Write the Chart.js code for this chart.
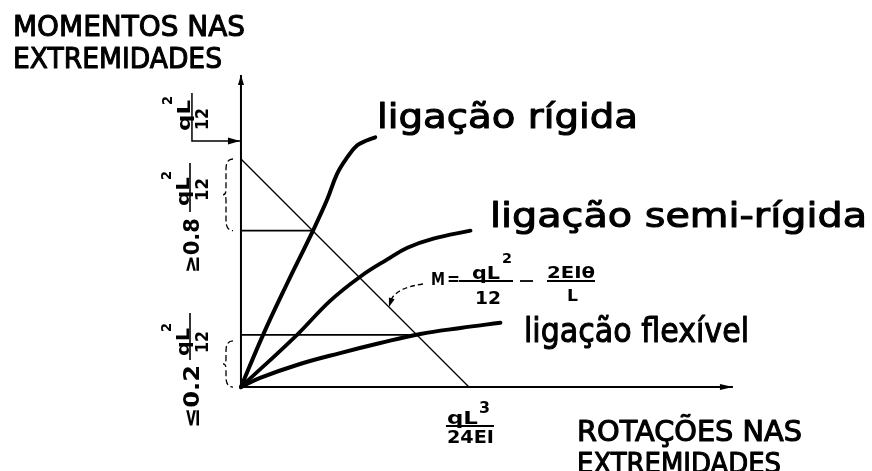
<!DOCTYPE html>
<html>
<head>
<meta charset="utf-8">
<script src="https://cdn.jsdelivr.net/npm/chart.js@4.4.1/dist/chart.umd.min.js"></script>
<style>
  html, body { margin: 0; padding: 0; background: #fff; }
  canvas { display: block; }
</style>
</head>
<body>
<canvas id="chart" width="872" height="471"></canvas>
<script>
// Rotation θ in units of qL³/24EI, end moment M in units of qL²/12
const rigidTheta   = [0, 0.097, 0.202, 0.316, 0.378, 0.422, 0.466, 0.510, 0.554, 0.589];
const rigidMoment  = [0, 0.229, 0.453, 0.686, 0.822, 0.936, 1.007, 1.060, 1.082, 1.095];

const semiTheta    = [0, 0.246, 0.391, 0.523, 0.642, 0.730, 0.844, 1.007];
const semiMoment   = [0, 0.229, 0.378, 0.484, 0.560, 0.611, 0.651, 0.686];

const flexTheta    = [0, 0.084, 0.259, 0.435, 0.611, 0.787, 0.963, 1.138];
const flexMoment   = [0, 0.040, 0.101, 0.149, 0.193, 0.233, 0.259, 0.282];

// Beam line M = qL²/12 − 2EIθ/L : intercepts at M = 1 and θ = 1
const beamTheta    = [0, 1];
const beamMoment   = [1, 0];

// Limits of the rigid and flexible zones as drawn
const upperLimit   = 0.686;
const lowerLimit   = 0.229;

// Marker pointing at the fixed-end moment
const markerTheta  = [-0.215, -0.215, 0];
const markerMoment = [1.289, 1.079, 1.079];

// Axis extents
const axisThetaMax  = 2.158;
const axisMomentMax = 1.368;

const labels = {
  yTitle: ['MOMENTOS NAS', 'EXTREMIDADES'],
  xTitle: ['ROTAÇÕES NAS', 'EXTREMIDADES'],
  rigid: 'ligação rígida',
  semi: 'ligação semi-rígida',
  flex: 'ligação flexível'
};

const pts = (xs, ys) => xs.map((x, i) => ({ x, y: ys[i] }));
const FONT = '"DejaVu Sans", "Liberation Sans", sans-serif';

// Draws s from (x, y) stretched to width w; optional stroke thickens the glyphs
function fitText(ctx, s, x, y, w, size, rotate, opt = {}) {
  ctx.save();
  ctx.font = `${opt.bold ? 'bold ' : ''}${size}px ${FONT}`;
  ctx.textBaseline = 'alphabetic';
  ctx.textAlign = 'left';
  const m = ctx.measureText(s).width;
  ctx.translate(x, y);
  if (rotate) ctx.rotate(-Math.PI / 2);
  ctx.scale(w / m, opt.sy || 1);
  ctx.fillText(s, 0, 0);
  if (opt.stroke) {
    ctx.lineWidth = opt.stroke;
    ctx.lineJoin = 'round';
    ctx.strokeText(s, 0, 0);
  }
  ctx.restore();
}

function seg(ctx, x1, y1, x2, y2, lw) {
  ctx.save();
  ctx.lineWidth = lw;
  ctx.beginPath();
  ctx.moveTo(x1, y1);
  ctx.lineTo(x2, y2);
  ctx.stroke();
  ctx.restore();
}

function arrowHead(ctx, tx, ty, angle, len, half) {
  ctx.save();
  ctx.translate(tx, ty);
  ctx.rotate(angle);
  ctx.beginPath();
  ctx.moveTo(0, 0);
  ctx.lineTo(-len, -half);
  ctx.lineTo(-len, half);
  ctx.closePath();
  ctx.fill();
  ctx.restore();
}

function brace(ctx, xr, y0, y1, depth) {
  const xm = xr - depth * 0.7, xt = xr - depth, ym = (y0 + y1) / 2;
  ctx.save();
  ctx.lineWidth = 1.3;
  ctx.setLineDash([6, 3]);
  ctx.beginPath();
  ctx.moveTo(xr, y0);
  ctx.quadraticCurveTo(xm, y0, xm, y0 + 10);
  ctx.lineTo(xm, ym - 5);
  ctx.quadraticCurveTo(xm, ym, xt, ym);
  ctx.quadraticCurveTo(xm, ym, xm, ym + 5);
  ctx.lineTo(xm, y1 - 10);
  ctx.quadraticCurveTo(xm, y1, xr, y1);
  ctx.stroke();
  ctx.restore();
}

const annotations = {
  id: 'annotations',
  afterDatasetsDraw(chart) {
    const ctx = chart.ctx;
    const sx = chart.scales.x, sy = chart.scales.y;
    const px = v => sx.getPixelForValue(v);
    const py = v => sy.getPixelForValue(v);
    const B = { bold: true };
    ctx.save();
    ctx.fillStyle = '#000';
    ctx.strokeStyle = '#000';

    // axis arrowheads
    arrowHead(ctx, px(axisThetaMax), py(0), 0, 13, 3);
    arrowHead(ctx, px(0), py(axisMomentMax), -Math.PI / 2, 10, 3);
    // marker arrow onto the moment axis
    arrowHead(ctx, px(0) - 1, py(markerMoment[2]), 0, 12, 3.5);

    // axis titles
    const T = { stroke: 1.1 };
    fitText(ctx, labels.yTitle[0], 13, 36, 232, 29, false, T);
    fitText(ctx, labels.yTitle[1], 13, 68, 209, 29, false, T);
    fitText(ctx, labels.xTitle[0], 577, 441, 225, 28, false, T);
    fitText(ctx, labels.xTitle[1], 577, 473, 204, 28, false, T);

    // curve labels
    const L = { stroke: 1.0, sy: 1.08 };
    fitText(ctx, labels.rigid, 377, 128, 261, 32, false, L);
    fitText(ctx, labels.semi, 490, 227, 377, 32, false, L);
    fitText(ctx, labels.flex, 524, 342, 225, 32, false, L);

    // θ tick: qL³ / 24EI under θ = 1
    const t1 = px(1);
    fitText(ctx, 'qL', t1 - 22, 424, 31, 17, false, B);
    fitText(ctx, '3', t1 + 10, 413, 11, 15, false, B);
    seg(ctx, t1 - 23, 426, t1 + 25, 426, 1.8);
    fitText(ctx, '24EI', t1 - 22, 443, 47, 18, false, B);

    // rotated moment labels
    fitText(ctx, 'qL', 190, 131, 31, 18, true, B);
    fitText(ctx, '2', 172, 105, 9, 14, true, B);
    fitText(ctx, '12', 208, 130, 22, 17, true, B);

    seg(ctx, 190, 163, 190, 212, 1.6);
    fitText(ctx, 'qL', 189, 206, 29, 18, true, B);
    fitText(ctx, '2', 171, 180, 9, 14, true, B);
    fitText(ctx, '12', 208, 201, 23, 17, true, B);
    fitText(ctx, '≥0.8', 199, 273, 55, 22, true, B);

    seg(ctx, 190, 313, 190, 360, 1.6);
    fitText(ctx, 'qL', 189, 356, 28, 18, true, B);
    fitText(ctx, '2', 171, 332, 9, 14, true, B);
    fitText(ctx, '12', 208, 353, 22, 17, true, B);
    fitText(ctx, '≤0.2', 199, 428, 63, 22, true, B);

    // braces spanning the rigid and flexible zones
    brace(ctx, 233, py(1), py(upperLimit), 10);
    brace(ctx, 233, py(lowerLimit) + 6, py(0), 10);

    // beam-line equation
    fitText(ctx, 'M', 431, 285, 14, 17, false, B);
    fitText(ctx, '=', 447, 285, 13, 17, false, B);
    seg(ctx, 459, 281, 513, 281, 1.8);
    fitText(ctx, 'qL', 472, 279, 28, 17, false, B);
    fitText(ctx, '2', 502, 263, 10, 14, false, B);
    fitText(ctx, '12', 475, 304, 26, 18, false, B);
    seg(ctx, 520, 281, 533, 281, 1.8);
    seg(ctx, 547, 281, 595, 281, 1.8);
    fitText(ctx, '2EIθ', 547, 278, 48, 15, false, B);
    fitText(ctx, 'L', 567, 301, 11, 15, false, B);

    // leader from the equation to the beam line
    ctx.save();
    ctx.lineWidth = 1.3;
    ctx.setLineDash([5, 3]);
    ctx.beginPath();
    ctx.moveTo(423, 284);
    ctx.quadraticCurveTo(396, 288, 391, 300);
    ctx.stroke();
    ctx.restore();
    arrowHead(ctx, 389, 307, Math.PI * 0.6, 9, 3);

    ctx.restore();
  }
};

const lineSet = (data, width) => ({
  data, borderColor: '#000', backgroundColor: '#000', borderWidth: width,
  pointRadius: 0, fill: false, tension: 0
});

new Chart(document.getElementById('chart'), {
  type: 'line',
  data: {
    datasets: [
      { ...lineSet(pts(rigidTheta, rigidMoment), 4), tension: 0.4, borderCapStyle: 'round' },
      { ...lineSet(pts(semiTheta, semiMoment), 3.8), tension: 0.4, borderCapStyle: 'round' },
      { ...lineSet(pts(flexTheta, flexMoment), 4), tension: 0.4, borderCapStyle: 'round' },
      lineSet(pts(beamTheta, beamMoment), 1.3),
      lineSet([{ x: 0, y: upperLimit }, { x: 1 - upperLimit, y: upperLimit }], 1.6),
      lineSet([{ x: 0, y: lowerLimit }, { x: 1 - lowerLimit, y: lowerLimit }], 1.6),
      lineSet(pts(markerTheta, markerMoment), 1.5),
      lineSet([{ x: 0, y: 0 }, { x: axisThetaMax, y: 0 }], 2),
      lineSet([{ x: 0, y: 0 }, { x: 0, y: axisMomentMax }], 2)
    ]
  },
  options: {
    responsive: false,
    animation: false,
    layout: { padding: 0 },
    plugins: { legend: { display: false }, tooltip: { enabled: false } },
    scales: {
      x: { type: 'linear', min: -1.057, max: 2.768, display: false },
      y: { type: 'linear', min: -0.368, max: 1.697, display: false }
    }
  },
  plugins: [annotations]
});
</script>
</body>
</html>
